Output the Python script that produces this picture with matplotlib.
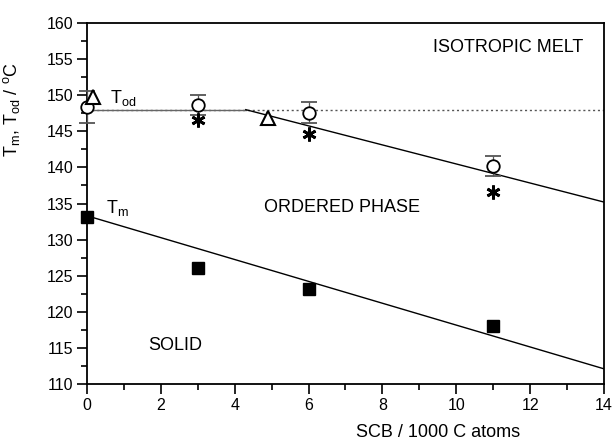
import matplotlib
matplotlib.use("Agg")
import matplotlib.pyplot as plt
from matplotlib.ticker import MultipleLocator

plt.rcParams['font.family'] = ['Liberation Sans', 'DejaVu Sans']
plt.rcParams['mathtext.fontset'] = 'custom'
plt.rcParams['mathtext.rm'] = 'Liberation Sans'
plt.rcParams['mathtext.it'] = 'Liberation Sans'

# Melting temperature (filled squares)
scb_tm = [0, 3, 6, 11]
tm_vals = [133.1, 126.1, 123.2, 118.1]

# Order-disorder temperature, open circles with error bars
scb_circ = [0, 3, 6, 11]
tod_circ = [148.4, 148.7, 147.6, 140.2]
tod_circ_err = [2.2, 1.4, 1.45, 1.45]

# Order-disorder temperature, asterisks
scb_ast = [3, 6, 11]
tod_ast = [146.6, 144.6, 136.6]

# Order-disorder temperature, open triangles
scb_tri = [0.15, 4.9]
tod_tri = [149.8, 146.9]

# Phase boundary lines
tm_line_x = [0, 14]
tm_line_y = [133.3, 112.1]
tod_line_x = [0, 4.3, 14]
tod_line_y = [148.0, 148.0, 135.2]
iso_line_x = [0, 14]
iso_line_y = [148.0, 148.0]

fig = plt.figure(figsize=(6.14, 4.43), dpi=100)
ax = fig.add_axes([0.1417, 0.1332, 0.842, 0.8148])

ax.plot(iso_line_x, iso_line_y, linestyle=(0, (1.5, 2)), color='#555555', lw=1.0, zorder=1)
ax.plot(tod_line_x[:2], tod_line_y[:2], color='#666666', lw=1.0, zorder=1)
ax.plot(tod_line_x[1:], tod_line_y[1:], color='black', lw=1.0, zorder=1)
ax.plot(tm_line_x, tm_line_y, color='black', lw=1.0, zorder=1)

ax.plot(scb_tm, tm_vals, 's', color='black', ms=8.5, zorder=3, clip_on=False)
ax.errorbar(scb_circ, tod_circ, yerr=tod_circ_err, fmt='o', mfc='white', mec='black',
            mew=1.3, ms=9, ecolor='#555555', elinewidth=0.9, capsize=6, capthick=0.9,
            zorder=3, clip_on=False)
ax.plot(scb_ast, tod_ast, marker=(6, 2, 0), linestyle='none', color='black', ms=10, mew=2.0, zorder=3)
ax.plot(scb_tri, tod_tri, '^', mfc='white', mec='black', mew=1.5, ms=10, zorder=4, clip_on=False)

ax.set_xlim(0, 14)
ax.set_ylim(110, 160)
ax.xaxis.set_major_locator(MultipleLocator(2))
ax.xaxis.set_minor_locator(MultipleLocator(1))
ax.yaxis.set_major_locator(MultipleLocator(5))
ax.yaxis.set_minor_locator(MultipleLocator(2.5))
ax.tick_params(which='both', direction='out', top=False, right=False, labelsize=11.5, width=1.2)
ax.tick_params(which='major', length=7, pad=3)
ax.tick_params(which='minor', length=4)
for s in ax.spines.values():
    s.set_linewidth(1.3)

ax.set_xlabel('SCB / 1000 C atoms', fontsize=13)
ax.xaxis.set_label_coords(0.68, -0.112)
ax.set_ylabel('T$_m$, T$_{od}$ / $^o$C', fontsize=13)
ax.yaxis.set_label_coords(-0.125, 0.76)

ax.text(11.4, 156.6, 'ISOTROPIC MELT', fontsize=13, ha='center', va='center')
ax.text(6.9, 134.4, 'ORDERED PHASE', fontsize=13, ha='center', va='center')
ax.text(2.4, 115.4, 'SOLID', fontsize=13, ha='center', va='center')
ax.text(0.62, 149.6, 'T$_{od}$', fontsize=13, ha='left', va='center')
ax.text(0.52, 134.4, 'T$_m$', fontsize=13, ha='left', va='center')

fig.savefig('out.png', dpi=100)
